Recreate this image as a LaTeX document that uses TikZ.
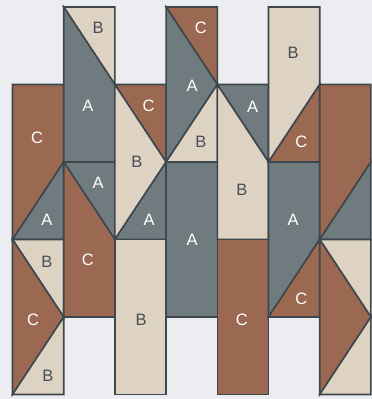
\documentclass[tikz,border=0pt]{standalone}
\usepackage{fontspec}
\setmainfont{Liberation Sans}
\usepackage{xcolor}
\definecolor{tilebg}{RGB}{236, 237, 240}
\definecolor{tileline}{RGB}{62, 70, 78}
\definecolor{tilea}{RGB}{112, 123, 127}
\definecolor{tileb}{RGB}{222, 210, 194}
\definecolor{tilec}{RGB}{155, 105, 82}
\definecolor{tiletext}{RGB}{72, 78, 84}
\tikzset{
  apiece/.style={fill=tilea, draw=tileline, line width=1.6pt, line join=miter},
  bpiece/.style={fill=tileb, draw=tileline, line width=1.6pt, line join=miter},
  cpiece/.style={fill=tilec, draw=tileline, line width=1.6pt, line join=miter},
  wlbl/.style={text=white, font=\fontsize{16.5}{16.5}\selectfont, inner sep=0pt},
  dlbl/.style={text=tiletext, font=\fontsize{16.5}{16.5}\selectfont, inner sep=0pt},
}
\begin{document}
\begin{tikzpicture}[x=51.2pt, y=-77.5pt]
        \fill[tilebg] (-12.5pt,7pt) rectangle (359.5pt,-392pt);
        \useasboundingbox (-12.5pt,7pt) rectangle (359.5pt,-392pt);
        % column 0
        \filldraw[cpiece] (0,1) -- (1,1) -- (1,2) -- (0,3) -- cycle;
        \filldraw[apiece] (0,3) -- (1,2) -- (1,3) -- cycle;
        \filldraw[bpiece] (0,3) -- (1,3) -- (1,4) -- cycle;
        \filldraw[cpiece] (0,3) -- (1,4) -- (0,5) -- cycle;
        \filldraw[bpiece] (1,4) -- (1,5) -- (0,5) -- cycle;
        % column 1
        \filldraw[bpiece] (1,0) -- (2,0) -- (2,1) -- cycle;
        \filldraw[apiece] (1,0) -- (2,1) -- (2,2) -- (1,2) -- cycle;
        \filldraw[apiece] (1,2) -- (2,2) -- (2,3) -- cycle;
        \filldraw[cpiece] (1,2) -- (2,3) -- (2,4) -- (1,4) -- cycle;
        % column 2
        \filldraw[cpiece] (2,1) -- (3,1) -- (3,2) -- cycle;
        \filldraw[bpiece] (2,1) -- (3,2) -- (2,3) -- cycle;
        \filldraw[apiece] (3,2) -- (3,3) -- (2,3) -- cycle;
        \filldraw[bpiece] (2,3) rectangle (3,5);
        % column 3
        \filldraw[cpiece] (3,0) -- (4,0) -- (4,1) -- cycle;
        \filldraw[apiece] (3,0) -- (4,1) -- (3,2) -- cycle;
        \filldraw[bpiece] (4,1) -- (4,2) -- (3,2) -- cycle;
        \filldraw[apiece] (3,2) rectangle (4,4);
        % column 4
        \filldraw[apiece] (4,1) -- (5,1) -- (5,2) -- cycle;
        \filldraw[bpiece] (4,1) -- (5,2) -- (5,3) -- (4,3) -- cycle;
        \filldraw[cpiece] (4,3) rectangle (5,5);
        % column 5
        \filldraw[bpiece] (5,0) -- (6,0) -- (6,1) -- (5,2) -- cycle;
        \filldraw[cpiece] (6,1) -- (6,2) -- (5,2) -- cycle;
        \filldraw[apiece] (5,2) -- (6,2) -- (6,3) -- (5,4) -- cycle;
        \filldraw[cpiece] (6,3) -- (6,4) -- (5,4) -- cycle;
        % column 6
        \filldraw[cpiece] (6,1) -- (7,1) -- (7,2) -- (6,3) -- cycle;
        \filldraw[apiece] (7,2) -- (7,3) -- (6,3) -- cycle;
        \filldraw[bpiece] (6,3) -- (7,3) -- (7,4) -- cycle;
        \filldraw[cpiece] (6,3) -- (7,4) -- (6,5) -- cycle;
        \filldraw[bpiece] (7,4) -- (7,5) -- (6,5) -- cycle;
        % labels
        \node[wlbl] (c0c1) at (0.48,1.69) {C};
        \node[wlbl] (c0a) at (0.67,2.75) {A};
        \node[dlbl] (c0b1) at (0.67,3.29) {B};
        \node[wlbl] (c0c2) at (0.40,4.04) {C};
        \node[dlbl] (c0b2) at (0.69,4.76) {B};
        \node[dlbl] (c1b) at (1.67,0.27) {B};
        \node[wlbl] (c1a1) at (1.47,1.28) {A};
        \node[wlbl] (c1a2) at (1.67,2.27) {A};
        \node[wlbl] (c1c) at (1.47,3.26) {C};
        \node[wlbl] (c2c) at (2.66,1.27) {C};
        \node[dlbl] (c2b1) at (2.43,2.0) {B};
        \node[wlbl] (c2a) at (2.67,2.75) {A};
        \node[dlbl] (c2b2) at (2.51,4.04) {B};
        \node[wlbl] (c3c) at (3.68,0.27) {C};
        \node[wlbl] (c3a1) at (3.51,1.02) {A};
        \node[dlbl] (c3b) at (3.68,1.74) {B};
        \node[wlbl] (c3a2) at (3.51,3.01) {A};
        \node[wlbl] (c4a) at (4.69,1.29) {A};
        \node[dlbl] (c4b) at (4.48,2.36) {B};
        \node[wlbl] (c4c) at (4.48,4.04) {C};
        \node[dlbl] (c5b) at (5.48,0.59) {B};
        \node[wlbl] (c5c1) at (5.64,1.74) {C};
        \node[wlbl] (c5a) at (5.48,2.75) {A};
        \node[wlbl] (c5c2) at (5.64,3.77) {C};
      \end{tikzpicture}
\end{document}
